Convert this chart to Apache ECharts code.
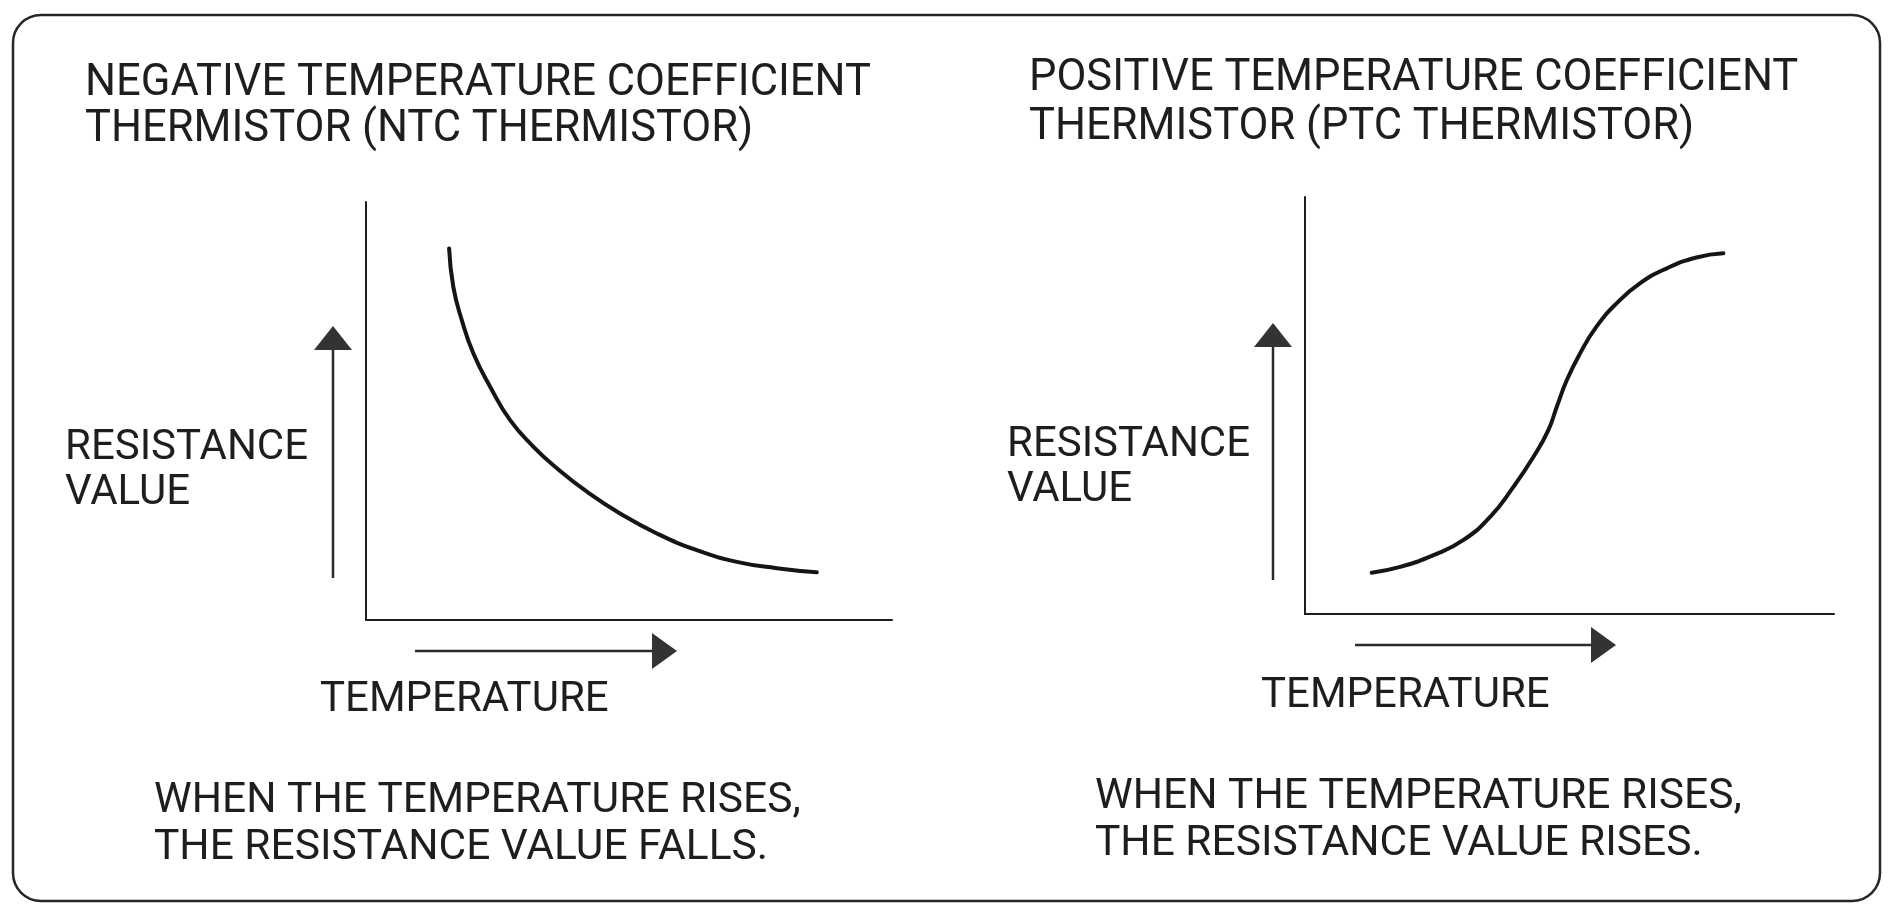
<!DOCTYPE html>
<html>
<head>
<meta charset="utf-8">
<title>NTC and PTC thermistor characteristics</title>
<script src="https://cdn.jsdelivr.net/npm/echarts@6/dist/echarts.min.js"></script>
<style>
  html, body { margin: 0; padding: 0; background: #ffffff; }
  #chart { width: 1894px; height: 906px; }
</style>
</head>
<body>
<div id="chart"></div>
<script>
// Relative temperature (0-100) and relative resistance (0-100) along each curve
const ntcTemperature = [15.8, 16.6, 18.2, 20.4, 23.6, 27.4, 31.8, 36.3, 42.0, 48.3, 55.3, 62.9, 70.5, 78.1, 85.7];
const ntcResistance  = [88.9, 79.7, 71.8, 63.8, 55.8, 47.8, 41.5, 36.3, 30.7, 25.5, 20.7, 16.7, 13.9, 12.4, 11.4];

const ptcTemperature = [12.6, 18.0, 24.3, 29.9, 35.0, 39.4, 43.2, 46.0, 47.6, 49.5, 52.0, 55.1, 58.9, 63.3, 68.4, 74.0, 79.1];
const ptcResistance  = [9.9, 11.3, 14.1, 17.7, 23.3, 30.5, 37.7, 44.1, 49.7, 56.1, 62.5, 68.9, 74.5, 79.3, 82.9, 85.5, 86.5];

// Text
const ntcTitle = ['NEGATIVE TEMPERATURE COEFFICIENT', 'THERMISTOR (NTC THERMISTOR)'];
const ptcTitle = ['POSITIVE TEMPERATURE COEFFICIENT', 'THERMISTOR (PTC THERMISTOR)'];
const yLabel = ['RESISTANCE', 'VALUE'];
const xLabel = 'TEMPERATURE';
const ntcNote = ['WHEN THE TEMPERATURE RISES,', 'THE RESISTANCE VALUE FALLS.'];
const ptcNote = ['WHEN THE TEMPERATURE RISES,', 'THE RESISTANCE VALUE RISES.'];

const INK = '#1e1e1e';
const FONT = 'Roboto, "Open Sans", sans-serif';

// Panel layout (pixels)
const panels = [
  { grid: { left: 366, top: 202, width: 526, height: 418 },
    title: { x: 85, y: [84, 130] }, yLab: { x: 65, y: [448, 493] },
    up: { x: 333, bottom: 578, tip: 326 }, right: { y: 651, left: 415, tip: 677 },
    xLab: { x: 320, y: 700 }, note: { x: 154, y: [801, 848] } },
  { grid: { left: 1305, top: 197, width: 529, height: 417 },
    title: { x: 1029, y: [79, 128] }, yLab: { x: 1007, y: [445, 490] },
    up: { x: 1273, bottom: 580, tip: 323 }, right: { y: 645, left: 1355, tip: 1616 },
    xLab: { x: 1261, y: 696 }, note: { x: 1095, y: [797, 844] } }
];

const SIZE = { title: 43.5, label: 42, note: 42.5 };

function textEl(str, x, y, size) {
  return {
    type: 'text', x: x, y: y, z: 10,
    style: { text: str, fill: INK, fontSize: size, fontFamily: FONT, verticalAlign: 'middle', align: 'left' }
  };
}

function arrowUp(a) {
  return [
    { type: 'line', shape: { x1: a.x, y1: a.bottom, x2: a.x, y2: a.tip + 22 }, style: { stroke: '#2a2a2a', lineWidth: 2.5 } },
    { type: 'polygon', shape: { points: [[a.x, a.tip], [a.x - 19, a.tip + 24], [a.x + 19, a.tip + 24]] }, style: { fill: '#333' } }
  ];
}

function arrowRight(a) {
  return [
    { type: 'line', shape: { x1: a.left, y1: a.y, x2: a.tip - 22, y2: a.y }, style: { stroke: '#2a2a2a', lineWidth: 2.5 } },
    { type: 'polygon', shape: { points: [[a.tip, a.y], [a.tip - 25, a.y - 18], [a.tip - 25, a.y + 18]] }, style: { fill: '#333' } }
  ];
}

const titles = [ntcTitle, ptcTitle];
const notes = [ntcNote, ptcNote];

const graphics = [
  { type: 'rect', z: 1, shape: { x: 13, y: 15, width: 1867, height: 886, r: 28 },
    style: { fill: 'none', stroke: '#262626', lineWidth: 2.5 } }
];

panels.forEach(function (p, i) {
  graphics.push(textEl(titles[i][0], p.title.x, p.title.y[0], SIZE.title));
  graphics.push(textEl(titles[i][1], p.title.x, p.title.y[1], SIZE.title));
  graphics.push(textEl(yLabel[0], p.yLab.x, p.yLab.y[0], SIZE.label));
  graphics.push(textEl(yLabel[1], p.yLab.x, p.yLab.y[1], SIZE.label));
  graphics.push(textEl(xLabel, p.xLab.x, p.xLab.y, SIZE.label));
  graphics.push(textEl(notes[i][0], p.note.x, p.note.y[0], SIZE.note));
  graphics.push(textEl(notes[i][1], p.note.x, p.note.y[1], SIZE.note));
  arrowUp(p.up).forEach(function (g) { graphics.push(g); });
  arrowRight(p.right).forEach(function (g) { graphics.push(g); });
});

function axis(index) {
  return {
    type: 'value', gridIndex: index, min: 0, max: 100,
    axisLine: { show: true, onZero: false, lineStyle: { color: INK, width: 2 } },
    axisTick: { show: false }, axisLabel: { show: false }, splitLine: { show: false }
  };
}

function pairs(xs, ys) {
  return xs.map(function (x, k) { return [x, ys[k]]; });
}

const curveStyle = { color: '#151515', width: 4, cap: 'round' };

const option = {
  backgroundColor: '#ffffff',
  animation: false,
  grid: panels.map(function (p) { return p.grid; }),
  xAxis: [axis(0), axis(1)],
  yAxis: [axis(0), axis(1)],
  series: [
    { name: 'NTC', type: 'line', xAxisIndex: 0, yAxisIndex: 0, smooth: 0.5, symbol: 'none',
      lineStyle: curveStyle, data: pairs(ntcTemperature, ntcResistance) },
    { name: 'PTC', type: 'line', xAxisIndex: 1, yAxisIndex: 1, smooth: 0.5, symbol: 'none',
      lineStyle: curveStyle, data: pairs(ptcTemperature, ptcResistance) }
  ],
  graphic: graphics
};

const chart = echarts.init(document.getElementById('chart'), null, { renderer: 'canvas' });
chart.setOption(option);
</script>
</body>
</html>
